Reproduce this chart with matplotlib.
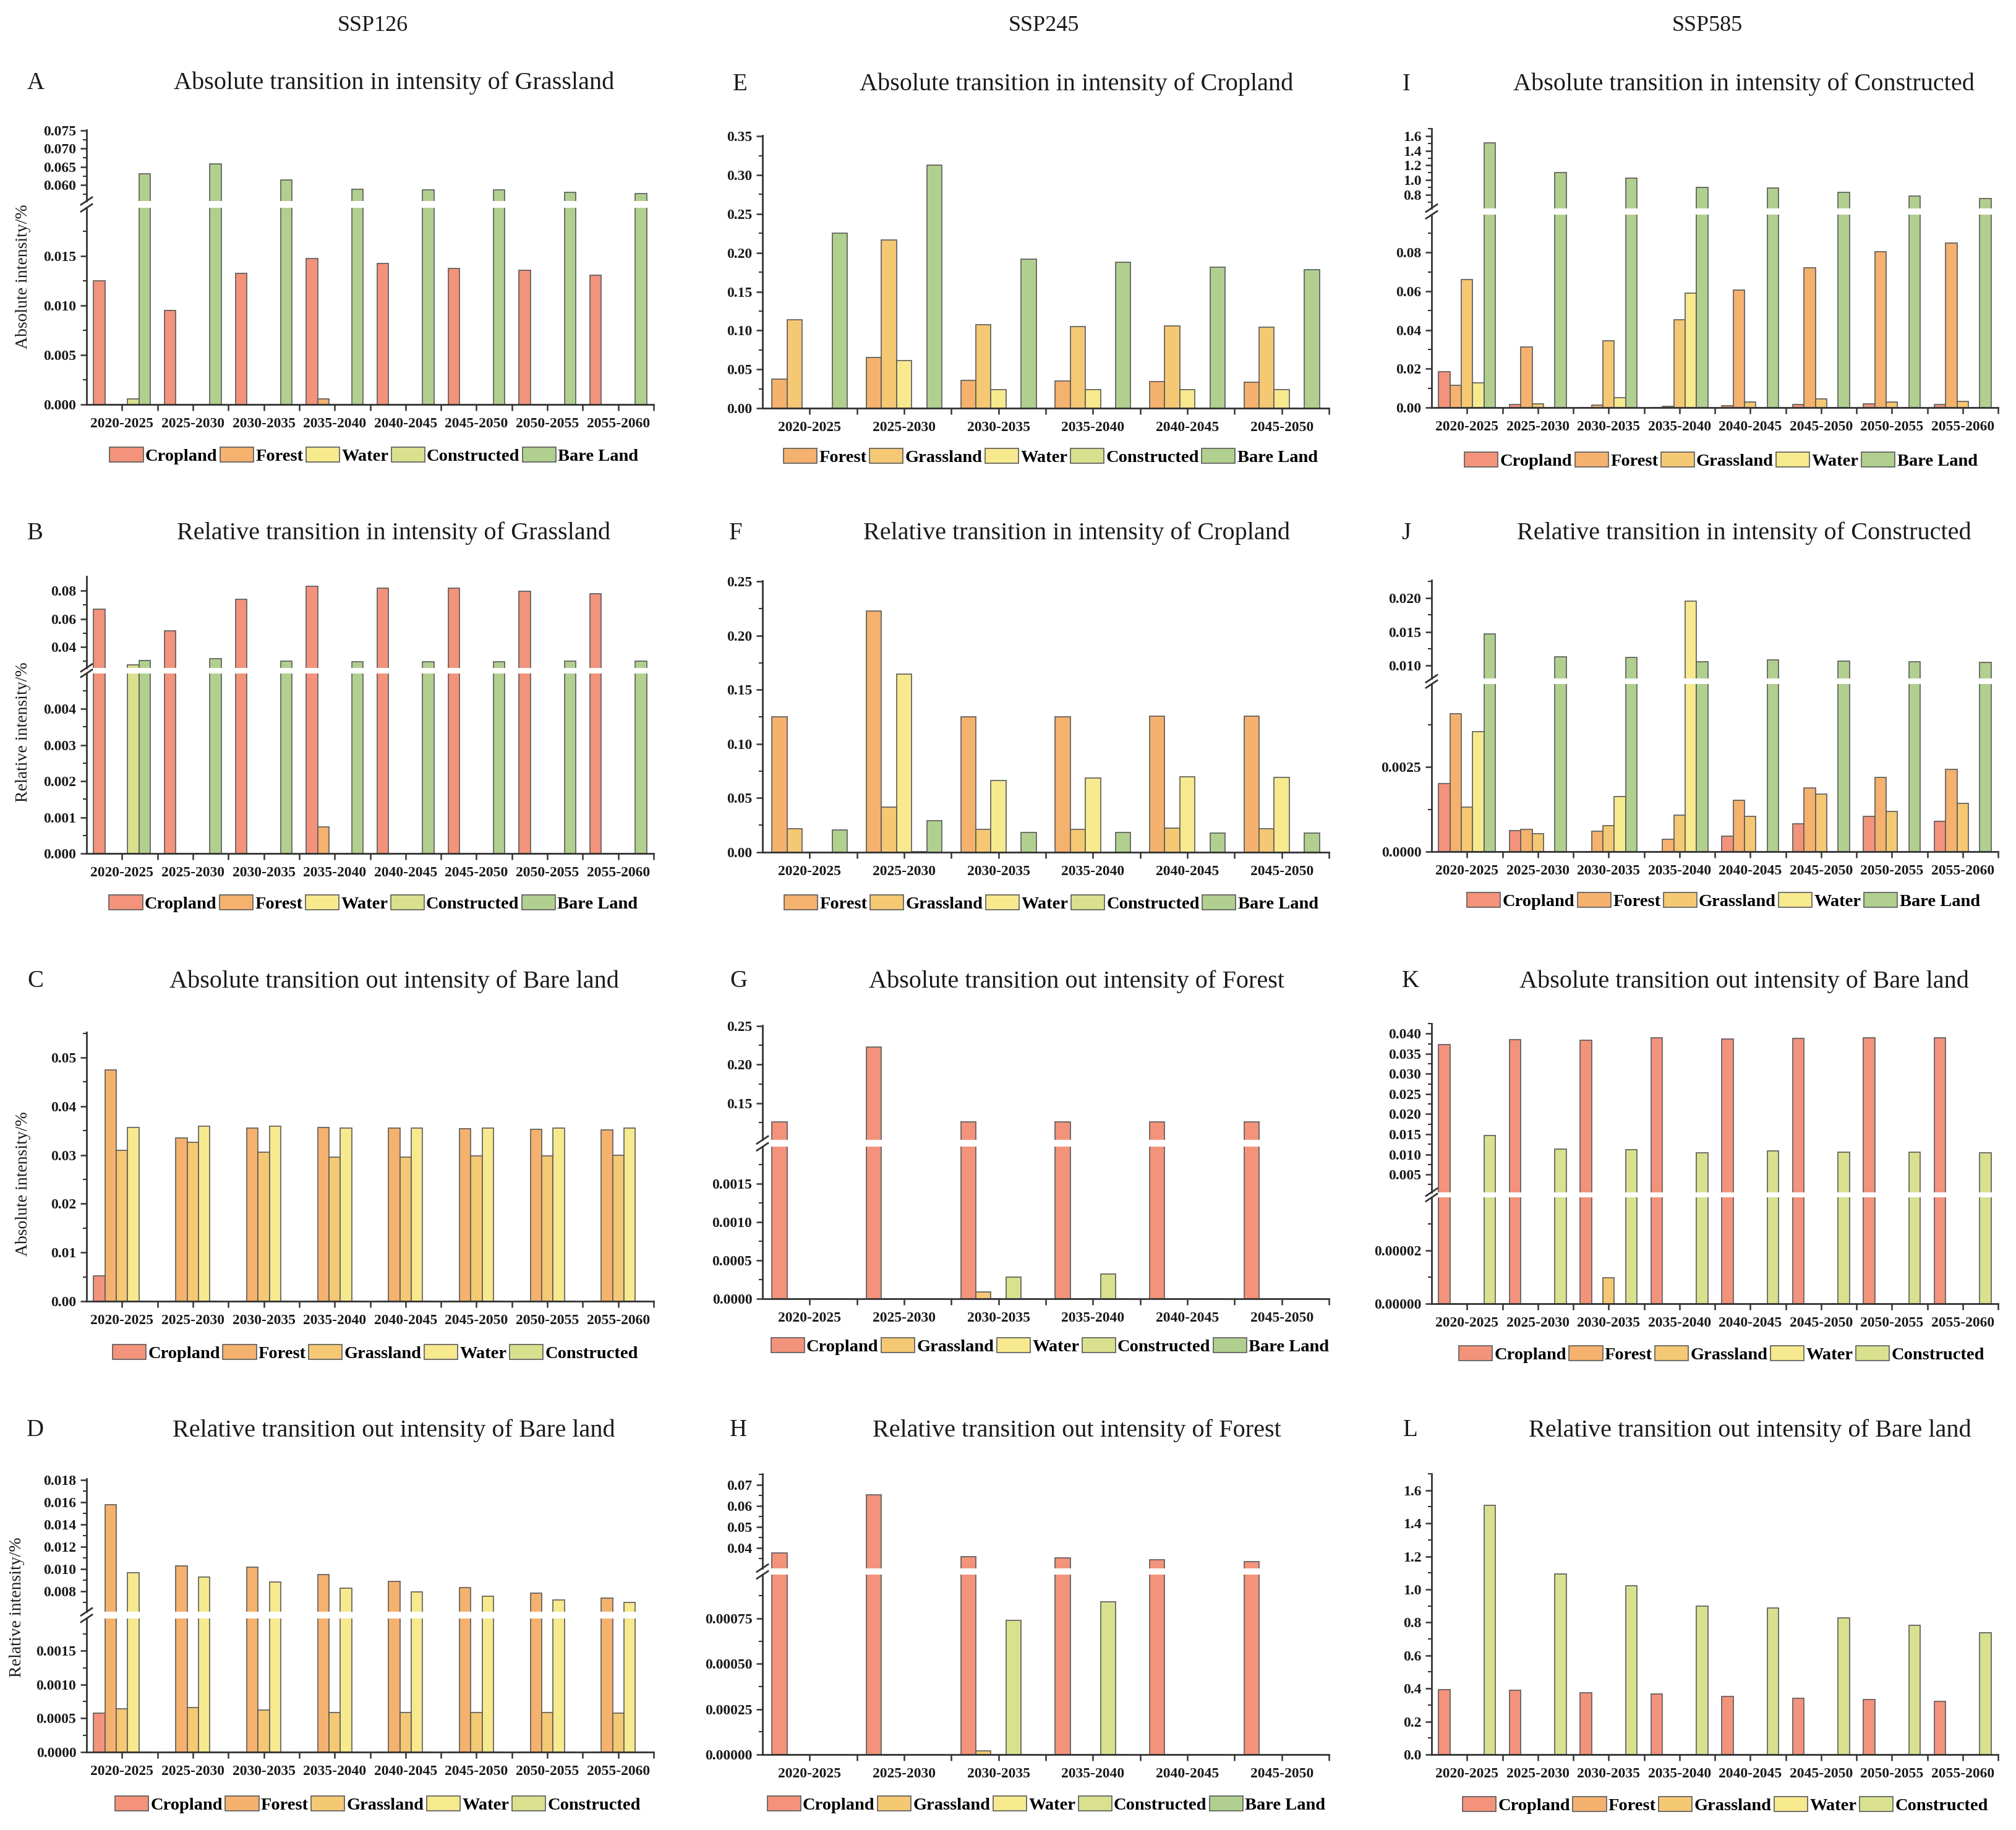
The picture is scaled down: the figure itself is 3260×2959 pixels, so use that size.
import numpy as np
import matplotlib
matplotlib.use("Agg")
import matplotlib.pyplot as plt
from matplotlib.ticker import MultipleLocator, FormatStrFormatter, FixedLocator
from matplotlib.lines import Line2D
from matplotlib.patches import Patch

plt.rcParams['font.family'] = ['Liberation Serif', 'DejaVu Serif']

W, H = 3260, 2959

periods8 = ["2020-2025", "2025-2030", "2030-2035", "2035-2040",
            "2040-2045", "2045-2050", "2050-2055", "2055-2060"]
periods6 = ["2020-2025", "2025-2030", "2030-2035", "2035-2040",
            "2040-2045", "2045-2050"]

# ---- SSP126 ----
# A: absolute transition in intensity of Grassland
a_names = ["Cropland", "Forest", "Water", "Constructed", "Bare Land"]
a_cropland = [0.0125, 0.0095, 0.0133, 0.0148, 0.0143, 0.0138, 0.0136, 0.0131]
a_forest = [0, 0, 0, 0.00055, 0, 0, 0, 0]
a_water = [0, 0, 0, 0, 0, 0, 0, 0]
a_constructed = [0.00055, 0, 0, 0, 0, 0, 0, 0]
a_bare = [0.0632, 0.0659, 0.0615, 0.0589, 0.0587, 0.0587, 0.0580, 0.0577]

# B: relative transition in intensity of Grassland
b_names = ["Cropland", "Forest", "Water", "Constructed", "Bare Land"]
b_cropland = [0.0668, 0.0517, 0.0738, 0.0828, 0.0817, 0.0817, 0.0794, 0.0779]
b_forest = [0, 0, 0, 0.00073, 0, 0, 0, 0]
b_water = [0, 0, 0, 0, 0, 0, 0, 0]
b_constructed = [0.0277, 0, 0, 0, 0, 0, 0, 0]
b_bare = [0.0308, 0.0321, 0.0304, 0.0296, 0.0296, 0.0296, 0.0300, 0.0302]

# C: absolute transition out intensity of Bare land
c_names = ["Cropland", "Forest", "Grassland", "Water", "Constructed"]
c_cropland = [0.0052, 0, 0, 0, 0, 0, 0, 0]
c_forest = [0.0475, 0.0335, 0.0355, 0.0356, 0.0355, 0.0354, 0.0353, 0.0352]
c_grassland = [0.0309, 0.0326, 0.0306, 0.0296, 0.0296, 0.0298, 0.0298, 0.0300]
c_water = [0.0356, 0.0359, 0.0359, 0.0355, 0.0355, 0.0355, 0.0355, 0.0355]
c_constructed = [0, 0, 0, 0, 0, 0, 0, 0]

# D: relative transition out intensity of Bare land
d_names = ["Cropland", "Forest", "Grassland", "Water", "Constructed"]
d_cropland = [0.00058, 0, 0, 0, 0, 0, 0, 0]
d_forest = [0.01575, 0.01025, 0.01013, 0.0095, 0.0089, 0.00834, 0.00783, 0.00737]
d_grassland = [0.00064, 0.00066, 0.00062, 0.00059, 0.00059, 0.00059, 0.00059, 0.00058]
d_water = [0.00965, 0.00926, 0.0088, 0.00827, 0.00793, 0.00756, 0.00723, 0.00696]
d_constructed = [0, 0, 0, 0, 0, 0, 0, 0]

# ---- SSP245 ----
# E: absolute transition in intensity of Cropland
e_names = ["Forest", "Grassland", "Water", "Constructed", "Bare Land"]
e_forest = [0.0373, 0.0653, 0.0356, 0.0349, 0.0342, 0.0335]
e_grassland = [0.1137, 0.2167, 0.1078, 0.1054, 0.1057, 0.1040]
e_water = [0, 0.0612, 0.0242, 0.0242, 0.0242, 0.0235]
e_constructed = [0, 0, 0, 0, 0, 0]
e_bare = [0.2253, 0.3124, 0.1921, 0.1880, 0.1818, 0.1783]

# F: relative transition in intensity of Cropland
f_names = ["Forest", "Grassland", "Water", "Constructed", "Bare Land"]
f_forest = [0.1248, 0.2228, 0.1250, 0.1250, 0.1255, 0.1257]
f_grassland = [0.0215, 0.0415, 0.0212, 0.0212, 0.0220, 0.0215]
f_water = [0, 0.1643, 0.0662, 0.0687, 0.0697, 0.0692]
f_constructed = [0, 0.0008, 0, 0, 0, 0]
f_bare = [0.0205, 0.0291, 0.0183, 0.0183, 0.0175, 0.0175]

# G: absolute transition out intensity of Forest
g_names = ["Cropland", "Grassland", "Water", "Constructed", "Bare Land"]
g_cropland = [0.1257, 0.2229, 0.1257, 0.1257, 0.1257, 0.1257]
g_grassland = [0, 0, 0.00009, 0, 0, 0]
g_water = [0, 0, 0, 0, 0, 0]
g_constructed = [0, 0, 0.00028, 0.00032, 0, 0]
g_bare = [0, 0, 0, 0, 0, 0]

# H: relative transition out intensity of Forest
h_names = ["Cropland", "Grassland", "Water", "Constructed", "Bare Land"]
h_cropland = [0.0377, 0.0651, 0.0359, 0.0352, 0.0345, 0.0337]
h_grassland = [0, 0, 0.00002, 0, 0, 0]
h_water = [0, 0, 0, 0, 0, 0]
h_constructed = [0, 0, 0.00074, 0.00084, 0, 0]
h_bare = [0, 0, 0, 0, 0, 0]

# ---- SSP585 ----
# I: absolute transition in intensity of Constructed
i_names = ["Cropland", "Forest", "Grassland", "Water", "Bare Land"]
i_cropland = [0.0186, 0.0015, 0, 0, 0.0008, 0.0017, 0.0019, 0.0016]
i_forest = [0.0115, 0.0313, 0.0013, 0.0006, 0.0608, 0.0720, 0.0803, 0.0848]
i_grassland = [0.0660, 0.0018, 0.0345, 0.0454, 0.0029, 0.0046, 0.0029, 0.0033]
i_water = [0.0127, 0, 0.0051, 0.0591, 0, 0, 0, 0]
i_bare = [1.508, 1.099, 1.023, 0.902, 0.895, 0.833, 0.782, 0.745]

# J: relative transition in intensity of Constructed
j_names = ["Cropland", "Forest", "Grassland", "Water", "Bare Land"]
j_cropland = [0.00201, 0.00063, 0, 0, 0.00046, 0.00083, 0.00104, 0.00089]
j_forest = [0.00408, 0.00066, 0.00060, 0.00036, 0.00151, 0.00188, 0.00220, 0.00243]
j_grassland = [0.00132, 0.00053, 0.00077, 0.00107, 0.00105, 0.00170, 0.00119, 0.00142]
j_water = [0.00354, 0, 0.00163, 0.0196, 0, 0, 0, 0]
j_bare = [0.0147, 0.0113, 0.0112, 0.0105, 0.0108, 0.0106, 0.0105, 0.0104]

# K: absolute transition out intensity of Bare land
k_names = ["Cropland", "Forest", "Grassland", "Water", "Constructed"]
k_cropland = [0.0373, 0.0385, 0.0383, 0.0390, 0.0386, 0.0388, 0.0389, 0.0390]
k_forest = [0, 0, 0, 0, 0, 0, 0, 0]
k_grassland = [0, 0, 0.0000097, 0, 0, 0, 0, 0]
k_water = [0, 0, 0, 0, 0, 0, 0, 0]
k_constructed = [0.0147, 0.0113, 0.0111, 0.0104, 0.0108, 0.0106, 0.0105, 0.0104]

# L: relative transition out intensity of Bare land
l_names = ["Cropland", "Forest", "Grassland", "Water", "Constructed"]
l_cropland = [0.393, 0.391, 0.373, 0.367, 0.352, 0.342, 0.332, 0.322]
l_forest = [0, 0, 0, 0, 0, 0, 0, 0]
l_grassland = [0, 0, 0, 0, 0, 0, 0, 0]
l_water = [0, 0, 0, 0, 0, 0, 0, 0]
l_constructed = [1.510, 1.095, 1.023, 0.900, 0.888, 0.829, 0.781, 0.737]


COLORS = {"Cropland": "#F3937B", "Forest": "#F5B16E", "Grassland": "#F5C874",
          "Water": "#F7E98E", "Constructed": "#D9E18F", "Bare Land": "#B1CF8F"}
EDGE = "#5a5a5a"
AXC = "#333333"
TXT = "#1a1a1a"
BAR_W = 0.16

fig = plt.figure(figsize=(W / 100, H / 100), dpi=100)


def fx(px):
    return px / W


def fy(py):
    return 1 - py / H


def style(ax, major, minor, fmt, show_x):
    for s in ["top", "right"]:
        ax.spines[s].set_visible(False)
    for s in ["left", "bottom"]:
        ax.spines[s].set_color(AXC)
        ax.spines[s].set_linewidth(2)
    ax.yaxis.set_major_locator(MultipleLocator(major))
    ax.yaxis.set_minor_locator(MultipleLocator(minor))
    ax.yaxis.set_major_formatter(FormatStrFormatter(fmt))
    ax.tick_params(axis="y", which="major", direction="out", length=7, width=1.8,
                   color=AXC, pad=5, labelsize=17, labelcolor=TXT)
    ax.tick_params(axis="y", which="minor", direction="out", length=4, width=1.5, color=AXC)
    for lab in ax.get_yticklabels():
        lab.set_fontweight("bold")
    if not show_x:
        ax.spines["bottom"].set_visible(False)
        ax.tick_params(axis="x", which="both", bottom=False, labelbottom=False)


def draw_bars(ax, names, series, periods):
    n = len(periods)
    x = np.arange(n)
    for k, (name, vals) in enumerate(zip(names, series)):
        ax.bar(x + (k - 2) * BAR_W, vals, BAR_W, color=COLORS[name],
               edgecolor=EDGE, linewidth=1.2)
    ax.set_xlim(-0.5, n - 0.5)


def xaxis_labels(ax, periods):
    n = len(periods)
    ax.set_xticks(np.arange(n))
    ax.set_xticklabels(periods, fontsize=17, fontweight="bold", color=TXT)
    ax.xaxis.set_minor_locator(FixedLocator(np.arange(0.5, n, 1.0)))
    ax.tick_params(axis="x", which="both", direction="out", length=7, width=1.8,
                   color=AXC, pad=8)


def panel(letter, title, names, series, periods, box, lims, ticks, brk=None,
          title_x=None, letter_x=None, legend_xy=None, ylabel=None, ylabel_xy=None,
          title_y=None):
    left, top, right, bottom = box
    w = (right - left) / W
    if brk is None:
        ax = fig.add_axes([fx(left), fy(bottom), w, (bottom - top) / H])
        draw_bars(ax, names, series, periods)
        ax.set_ylim(*lims)
        style(ax, *ticks, show_x=True)
        xaxis_labels(ax, periods)
    else:
        f_up, f_lo, up_lims, up_ticks = brk
        h = bottom - top
        y1 = top + f_up * h
        y2 = top + f_lo * h
        ax_up = fig.add_axes([fx(left), fy(y1), w, (y1 - top) / H])
        ax_lo = fig.add_axes([fx(left), fy(bottom), w, (bottom - y2) / H])
        for a in (ax_up, ax_lo):
            draw_bars(a, names, series, periods)
        ax_up.set_ylim(*up_lims)
        ax_lo.set_ylim(*lims)
        style(ax_up, *up_ticks, show_x=False)
        style(ax_lo, *ticks, show_x=True)
        xaxis_labels(ax_lo, periods)
        # "//" break marks on the y axis
        for yy in (y1, y2):
            fig.add_artist(Line2D([fx(left - 9), fx(left + 9)], [fy(yy + 6), fy(yy - 6)],
                                  color=AXC, lw=2))
    fig.text(fx(title_x), fy(title_y), title, fontsize=29, ha="center", va="center", color=TXT)
    fig.text(fx(letter_x), fy(title_y), letter, fontsize=28, ha="center", va="center", color=TXT)
    handles = [Patch(facecolor=COLORS[nm], edgecolor=EDGE, linewidth=1.2) for nm in names]
    fig.legend(handles, names, loc="center", ncol=5, frameon=False,
               bbox_to_anchor=(fx(legend_xy[0]), fy(legend_xy[1])),
               prop={"weight": "bold", "size": 20.5}, handlelength=1.9, handleheight=0.9,
               handletextpad=0.12, columnspacing=0.15, borderpad=0, borderaxespad=0)
    if ylabel:
        fig.text(fx(ylabel_xy[0]), fy(ylabel_xy[1]), ylabel, rotation=90, fontsize=20,
                 ha="center", va="center", color=TXT)


# column headers
fig.text(fx(603), fy(42), "SSP126", fontsize=26, ha="center", va="center", color=TXT)
fig.text(fx(1688), fy(42), "SSP245", fontsize=26, ha="center", va="center", color=TXT)
fig.text(fx(2761), fy(42), "SSP585", fontsize=26, ha="center", va="center", color=TXT)

# SSP126 column
panel("A", "Absolute transition in intensity of Grassland", a_names,
      [a_cropland, a_forest, a_water, a_constructed, a_bare], periods8,
      (140, 210, 1057, 654), (0, 0.0199), (0.005, 0.0025, "%.3f"),
      brk=(0.259, 0.284, (0.05566, 0.07515), (0.005, 0.0025, "%.3f")),
      title_x=637, letter_x=58, title_y=134, legend_xy=(605, 737),
      ylabel="Absolute intensity/%", ylabel_xy=(38, 447))

panel("B", "Relative transition in intensity of Grassland", b_names,
      [b_cropland, b_forest, b_water, b_constructed, b_bare], periods8,
      (140, 932, 1057, 1380), (0, 0.00498), (0.001, 0.0005, "%.3f"),
      brk=(0.330, 0.350, (0.02547, 0.0899), (0.02, 0.01, "%.2f")),
      title_x=637, letter_x=57, title_y=862, legend_xy=(604, 1461),
      ylabel="Relative intensity/%", ylabel_xy=(38, 1184))

panel("C", "Absolute transition out intensity of Bare land", c_names,
      [c_cropland, c_forest, c_grassland, c_water, c_constructed], periods8,
      (140, 1669, 1057, 2104), (0, 0.0552), (0.01, 0.005, "%.2f"),
      title_x=637, letter_x=57, title_y=1587, legend_xy=(607, 2188),
      ylabel="Absolute intensity/%", ylabel_xy=(38, 1914))

panel("D", "Relative transition out intensity of Bare land", d_names,
      [d_cropland, d_forest, d_grassland, d_water, d_constructed], periods8,
      (140, 2391, 1057, 2833), (0, 0.00198), (0.0005, 0.00025, "%.4f"),
      brk=(0.487, 0.511, (0.006136, 0.0181), (0.002, 0.001, "%.3f")),
      title_x=637, letter_x=57, title_y=2313, legend_xy=(611, 2918),
      ylabel="Relative intensity/%", ylabel_xy=(28, 2599))

# SSP245 column
panel("E", "Absolute transition in intensity of Cropland", e_names,
      [e_forest, e_grassland, e_water, e_constructed, e_bare], periods6,
      (1233, 219, 2149, 660), (0, 0.351), (0.05, 0.025, "%.2f"),
      title_x=1741, letter_x=1197, title_y=136, legend_xy=(1699, 739))

panel("F", "Relative transition in intensity of Cropland", f_names,
      [f_forest, f_grassland, f_water, f_constructed, f_bare], periods6,
      (1233, 939, 2149, 1378), (0, 0.2507), (0.05, 0.025, "%.2f"),
      title_x=1741, letter_x=1190, title_y=862, legend_xy=(1700, 1461))

panel("G", "Absolute transition out intensity of Forest", g_names,
      [g_cropland, g_grassland, g_water, g_constructed, g_bare], periods6,
      (1233, 1658, 2149, 2100), (0, 0.00198), (0.0005, 0.00025, "%.4f"),
      brk=(0.419, 0.444, (0.1024, 0.2507), (0.05, 0.025, "%.2f")),
      title_x=1741, letter_x=1194, title_y=1587, legend_xy=(1698, 2177))

panel("H", "Relative transition out intensity of Forest", h_names,
      [h_cropland, h_grassland, h_water, h_constructed, h_bare], periods6,
      (1233, 2383, 2149, 2837), (0, 0.00099), (0.00025, 0.000125, "%.5f"),
      brk=(0.336, 0.360, (0.03048, 0.07515), (0.01, 0.005, "%.2f")),
      title_x=1741, letter_x=1194, title_y=2313, legend_xy=(1692, 2918))

# SSP585 column
panel("I", "Absolute transition in intensity of Constructed", i_names,
      [i_cropland, i_forest, i_grassland, i_water, i_bare], periods8,
      (2315, 208, 3231, 659), (0, 0.0995), (0.02, 0.01, "%.2f"),
      brk=(0.285, 0.309, (0.6175, 1.702), (0.2, 0.1, "%.1f")),
      title_x=2820, letter_x=2274, title_y=136, legend_xy=(2783, 745))

panel("J", "Relative transition in intensity of Constructed", j_names,
      [j_cropland, j_forest, j_grassland, j_water, j_bare], periods8,
      (2315, 938, 3231, 1377), (0, 0.00495), (0.0025, 0.00125, "%.4f"),
      brk=(0.363, 0.383, (0.00801, 0.0227), (0.005, 0.0025, "%.3f")),
      title_x=2820, letter_x=2274, title_y=862, legend_xy=(2787, 1457))

panel("K", "Absolute transition out intensity of Bare land", k_names,
      [k_cropland, k_forest, k_grassland, k_water, k_constructed], periods8,
      (2315, 1655, 3231, 2108), (0, 0.0000398), (0.00002, 0.00001, "%.5f"),
      brk=(0.602, 0.621, (0.0006, 0.0425), (0.005, 0.0025, "%.3f")),
      title_x=2820, letter_x=2281, title_y=1587, legend_xy=(2784, 2190))

panel("L", "Relative transition out intensity of Bare land", l_names,
      [l_cropland, l_forest, l_grassland, l_water, l_constructed], periods8,
      (2315, 2383, 3231, 2837), (0, 1.70), (0.2, 0.1, "%.1f"),
      title_x=2830, letter_x=2281, title_y=2313, legend_xy=(2790, 2919))

fig.savefig("out.png", dpi=100, facecolor="white")
